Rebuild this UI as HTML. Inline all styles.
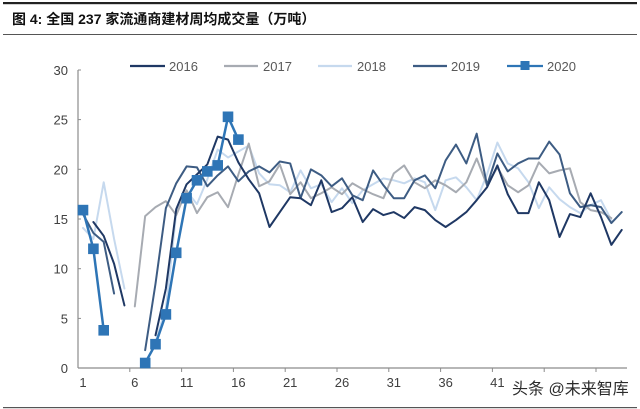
<!DOCTYPE html>
<html>
<head>
<meta charset="utf-8">
<style>
  html,body{margin:0;padding:0;background:#fff;}
  body{width:640px;height:409px;overflow:hidden;position:relative;}
  svg{position:absolute;left:0;top:0;}
  .t{font-family:"Liberation Sans","Noto Sans CJK SC",sans-serif;}
</style>
</head>
<body>
<svg width="640" height="409" viewBox="0 0 640 409" xmlns="http://www.w3.org/2000/svg">
  <rect width="640" height="409" fill="#fff"/>
  <rect x="3" y="2" width="634" height="2.2" fill="#222"/>
  <rect x="3" y="34" width="634" height="1" fill="#555"/>
  <rect x="3" y="407" width="634" height="1.2" fill="#555"/>
  <text x="12" y="24" class="t" font-size="14" font-weight="bold" fill="#111">图 4:  全国 237 家流通商建材周均成交量（万吨）</text>

  <line x1="78" y1="70" x2="78" y2="368" stroke="#8c8c8c" stroke-width="1.2"/>
  <line x1="78" y1="368" x2="627" y2="368" stroke="#8c8c8c" stroke-width="1.2"/>
  <g stroke="#8c8c8c" stroke-width="1">
    <line x1="78" y1="70" x2="81" y2="70"/>
    <line x1="78" y1="119.6" x2="81" y2="119.6"/>
    <line x1="78" y1="169.3" x2="81" y2="169.3"/>
    <line x1="78" y1="219" x2="81" y2="219"/>
    <line x1="78" y1="268.7" x2="81" y2="268.7"/>
    <line x1="78" y1="318.4" x2="81" y2="318.4"/>
    <line x1="129.8" y1="368" x2="129.8" y2="372"/>
    <line x1="181.6" y1="368" x2="181.6" y2="372"/>
    <line x1="233.4" y1="368" x2="233.4" y2="372"/>
    <line x1="285.2" y1="368" x2="285.2" y2="372"/>
    <line x1="337" y1="368" x2="337" y2="372"/>
    <line x1="388.8" y1="368" x2="388.8" y2="372"/>
    <line x1="440.6" y1="368" x2="440.6" y2="372"/>
    <line x1="492.4" y1="368" x2="492.4" y2="372"/>
    <line x1="544.2" y1="368" x2="544.2" y2="372"/>
    <line x1="596" y1="368" x2="596" y2="372"/>
  </g>
  <g class="t" font-size="13" fill="#404040" text-anchor="end">
    <text x="68" y="75">30</text>
    <text x="68" y="124.5">25</text>
    <text x="68" y="174.3">20</text>
    <text x="68" y="224">15</text>
    <text x="68" y="273.7">10</text>
    <text x="68" y="323.4">5</text>
    <text x="68" y="373">0</text>
  </g>
  <g class="t" font-size="13" fill="#404040" text-anchor="middle">
    <text x="83" y="387">1</text>
    <text x="134.8" y="387">6</text>
    <text x="186.6" y="387">11</text>
    <text x="238.4" y="387">16</text>
    <text x="290.2" y="387">21</text>
    <text x="342" y="387">26</text>
    <text x="393.8" y="387">31</text>
    <text x="445.6" y="387">36</text>
    <text x="497.4" y="387">41</text>
  </g>

  <g transform="matrix(10.36,0,0,-9.93,72.64,368)" fill="none" stroke-linejoin="round" stroke-linecap="round">
    <g stroke="#c6d9ee" stroke-width="2">
      <polyline vector-effect="non-scaling-stroke" points="1,14.1 2,13.0 3,18.7 4,13.0 5,8.0"/>
      <polyline vector-effect="non-scaling-stroke" points="8,2.6 9,6.0 10,15.6 11,17.8 12,16.5 13,19.0 14,22.0 15,21.2 16,21.8 17,22.4 18,19.6 19,18.5 20,18.4 21,17.7 22,19.9 23,18.1 24,18.5 25,16.7 26,18.1 27,16.6 28,17.9 29,18.5 30,19.1 31,18.9 32,18.6 33,19.1 34,18.7 35,15.9 36,18.9 37,19.2 38,18.2 39,16.9 40,19.5 41,22.7 42,20.6 43,20.1 44,18.7 45,16.1 46,18.2 47,17.0 48,16.2 49,15.6 50,16.4 51,16.9 52,14.9"/>
    </g>
    <g stroke="#a7abb2" stroke-width="2">
      <polyline vector-effect="non-scaling-stroke" points="6,6.2 7,15.3 8,16.2 9,16.8 10,15.4 11,17.9 12,15.6 13,17.2 14,17.7 15,16.2 16,19.5 17,22.6 18,18.3 19,18.8 20,20.5 21,17.5 22,18.7 23,17.1 24,17.6 25,18.2 26,17.5 27,18.6 28,18.0 29,17.5 30,17.1 31,19.6 32,20.4 33,18.7 34,18.1 35,18.9 36,18.4 37,17.7 38,18.7 39,21.1 40,18.4 41,20.2 42,18.4 43,17.7 44,18.4 45,20.7 46,19.6 47,19.9 48,20.1 49,16.7 50,15.9 51,15.7 52,15.1"/>
    </g>
    <g stroke="#3d5c83" stroke-width="2">
      <polyline vector-effect="non-scaling-stroke" points="1,15.5 2,13.6 3,12.7 4,7.5"/>
      <polyline vector-effect="non-scaling-stroke" points="7,1.8 8,8.5 9,16.1 10,18.6 11,20.3 12,20.2 13,18.3 14,19.4 15,20.3 16,18.8 17,19.8 18,20.3 19,19.7 20,20.8 21,20.6 22,17.1 23,20.0 24,19.4 25,18.3 26,19.1 27,17.4 28,16.9 29,19.9 30,18.4 31,17.1 32,17.1 33,18.9 34,19.4 35,18.1 36,20.9 37,22.5 38,20.6 39,23.6 40,18.4 41,21.6 42,19.8 43,20.6 44,21.1 45,21.1 46,22.8 47,21.5 48,17.6 49,16.2 50,16.4 51,16.2 52,14.6 53,15.7"/>
    </g>
    <g stroke="#1f3864" stroke-width="2">
      <polyline vector-effect="non-scaling-stroke" points="2,14.7 3,13.3 4,10.5 5,6.3"/>
      <polyline vector-effect="non-scaling-stroke" points="8,3.3 9,8.0 10,16.0 11,18.5 12,19.5 13,20.5 14,23.3 15,23.0 16,20.7 17,19.0 18,17.6 19,14.2 20,15.7 21,17.2 22,17.1 23,16.4 24,18.9 25,15.7 26,16.1 27,17.2 28,14.7 29,16.0 30,15.4 31,15.7 32,15.1 33,16.2 34,15.9 35,14.9 36,14.2 37,14.9 38,15.7 39,16.9 40,18.2 41,20.4 42,17.5 43,15.6 44,15.6 45,18.7 46,16.9 47,13.2 48,15.5 49,15.2 50,17.6 51,15.2 52,12.4 53,13.9"/>
    </g>
    <g stroke="#2e75b6" stroke-width="2.5">
      <polyline vector-effect="non-scaling-stroke" points="1,15.9 2,12.0 3,3.8"/>
      <polyline vector-effect="non-scaling-stroke" points="7,0.5 8,2.4 9,5.4 10,11.6 11,17.1 12,18.9 13,19.8 14,20.4 15,25.3 16,23.0"/>
    </g>
  </g>
  <g fill="#2e75b6">
    <rect x="77.7" y="204.8" width="10.6" height="10.6"/>
    <rect x="88.1" y="243.5" width="10.6" height="10.6"/>
    <rect x="98.4" y="325" width="10.6" height="10.6"/>
    <rect x="139.9" y="357.7" width="10.6" height="10.6"/>
    <rect x="150.2" y="338.9" width="10.6" height="10.6"/>
    <rect x="160.6" y="309.1" width="10.6" height="10.6"/>
    <rect x="170.9" y="247.5" width="10.6" height="10.6"/>
    <rect x="181.3" y="192.9" width="10.6" height="10.6"/>
    <rect x="191.7" y="175" width="10.6" height="10.6"/>
    <rect x="202" y="166.1" width="10.6" height="10.6"/>
    <rect x="212.4" y="160.1" width="10.6" height="10.6"/>
    <rect x="222.7" y="111.5" width="10.6" height="10.6"/>
    <rect x="233.1" y="134.3" width="10.6" height="10.6"/>
  </g>

  <g stroke-width="2.2">
    <line x1="130" y1="66" x2="165" y2="66" stroke="#1f3864"/>
    <line x1="224" y1="66" x2="258" y2="66" stroke="#a7abb2"/>
    <line x1="318" y1="66" x2="352" y2="66" stroke="#c6d9ee"/>
    <line x1="413" y1="66" x2="447" y2="66" stroke="#3d5c83"/>
    <line x1="507" y1="66" x2="543" y2="66" stroke="#2e75b6"/>
  </g>
  <rect x="520.5" y="61" width="9" height="9" fill="#2e75b6"/>
  <g class="t" font-size="13" fill="#595959">
    <text x="169" y="71">2016</text>
    <text x="263" y="71">2017</text>
    <text x="357" y="71">2018</text>
    <text x="451" y="71">2019</text>
    <text x="547" y="71">2020</text>
  </g>

  <text x="512" y="394" class="t" font-size="16" fill="#2b2b2b" stroke="#fff" stroke-width="3" paint-order="stroke">头条 @未来智库</text>
</svg>
</body>
</html>
